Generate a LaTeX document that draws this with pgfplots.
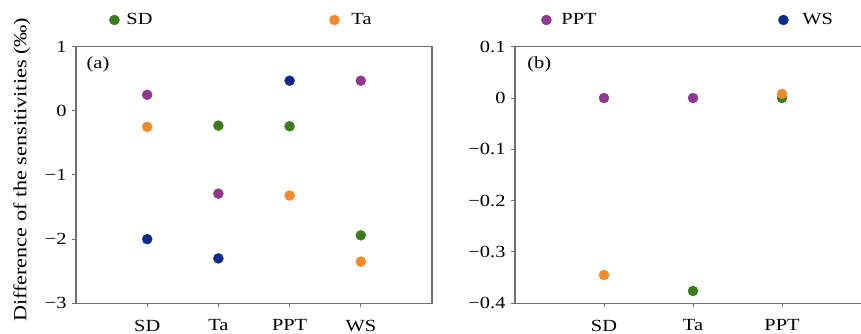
\documentclass[border=0pt]{standalone}
\usepackage{fontspec}
\setmainfont{Liberation Serif}[FakeStretch=1.2]
\usepackage{pgfplots}
\pgfplotsset{compat=1.18}
\definecolor{cg}{HTML}{3C7A1E}
\definecolor{co}{HTML}{F28A2C}
\definecolor{cp}{HTML}{8E3A8E}
\definecolor{cb}{HTML}{0B2A8A}
\definecolor{axgray}{HTML}{707070}
\newcommand{\bigf}{\fontsize{17}{20}\selectfont}
\newcommand{\labf}{\fontsize{18.5}{22}\selectfont}
\pgfplotsset{
  mystyle/.style={
    scale only axis,
    anchor=south west,
    height=256.6pt,
    xmin=-1, xmax=4,
    tick pos=left,
    tick align=outside,
    major tick length=4pt,
    axis line style={draw=axgray, line width=1.2pt},
    tick style={draw=axgray, line width=1pt},
    tick label style={font=\bigf},
    label style={font=\bigf},
    legend style={font=\bigf},
    xticklabel style={yshift=-9pt},
    yticklabel style={xshift=-2pt},
    only marks,
    every axis plot/.append style={mark=*, mark size=5pt, mark options={draw=none}},
  }
}
\begin{document}
\begin{tikzpicture}[x=1pt,y=1pt,font=\bigf]
\clip (0,0) rectangle (861,334);
\begin{axis}[mystyle,
  at={(76pt,30.7pt)},
  width=356pt,
  xtick={0,1,2,3},
  xticklabels={SD,Ta,PPT,WS},
  ymin=-3, ymax=1,
  ytick={-3,-2,-1,0,1},
  yticklabels={−3,−2,−1,0,1},
  ylabel={Difference of the sensitivities (‰)},
  every axis y label/.style={at={(axis description cs:-0.152,0.52)}, rotate=90, anchor=center, font=\labf},
  legend columns=4,
  legend style={at={(axis description cs:0.094,1.104)}, anchor=west, draw=none, fill=none, inner sep=0pt, outer sep=0pt,
    /tikz/every even column/.append style={column sep=0pt}},
  legend cell align=left,
]
\addplot[cg, mark options={fill=cg}] coordinates {(1,-0.23) (2,-0.24) (3,-1.94)};
\addlegendentry{\makebox[206pt][l]{\hspace{5pt}SD}}
\addplot[co, mark options={fill=co}] coordinates {(0,-0.25) (2,-1.32) (3,-2.35)};
\addlegendentry{\makebox[198pt][l]{\hspace{10pt}Ta}}
\addplot[cp, mark options={fill=cp}] coordinates {(0,0.25) (1,-1.29) (3,0.47)};
\addlegendentry{\makebox[223pt][l]{\hspace{8pt}PPT}}
\addplot[cb, mark options={fill=cb}] coordinates {(0,-2.00) (1,-2.30) (2,0.47)};
\addlegendentry{\hspace{12pt}WS}
\node[anchor=north west, font=\bigf] at (axis description cs:0.02,0.975) {(a)};
\end{axis}
\begin{axis}[mystyle,
  at={(515pt,30.7pt)},
  width=445pt,
  xtick={0,1,2},
  xticklabels={SD,Ta,PPT},
  ymin=-0.4, ymax=0.1,
  ytick={-0.4,-0.3,-0.2,-0.1,0,0.1},
  yticklabels={−0.4,−0.3,−0.2,−0.1,0,0.1},
]
\addplot[cp, mark options={fill=cp}] coordinates {(0,0) (1,0)};
\addplot[cg, mark options={fill=cg}] coordinates {(1,-0.376) (2,0.0)};
\addplot[co, mark options={fill=co}] coordinates {(0,-0.345) (2,0.008)};
\node[anchor=north west, font=\bigf] at (axis description cs:0.02,0.975) {(b)};
\end{axis}
\end{tikzpicture}
\end{document}
